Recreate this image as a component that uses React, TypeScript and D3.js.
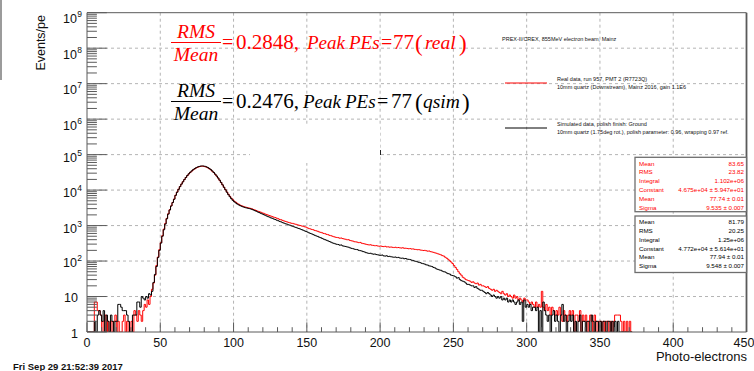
import React from 'react';
import * as d3 from 'd3';

// Photo-electron spectra, 1 PE per bin, bins start at 0 PE
const realCounts = [
  0, 0, 0, 0, 0, 7, 7, 4, 4, 3,
  0, 2, 3, 1, 2, 0, 2, 1, 2, 3,
  1, 2, 0, 1, 2, 3, 1, 2, 0, 1,
  2, 1, 4, 3, 2, 4, 3, 2, 4, 6,
  5, 8, 6, 10, 16, 24, 40, 75, 130, 210,
  330, 520, 800, 1150, 1600, 2150, 2800, 3600, 4500, 5600,
  7200, 8800, 10600, 12600, 14800, 17200, 19800, 22600, 25500, 28500,
  31400, 34300, 37000, 39600, 41900, 43900, 45500, 46600, 47000, 46700,
  45800, 44300, 42300, 39900, 37100, 34100, 31000, 27800, 24700, 21700,
  18900, 16300, 14000, 12000, 10300, 8850, 7650, 6700, 5950, 5350,
  4900, 4550, 4250, 4000, 3780, 3620, 3480, 3370, 3280, 3200,
  3130, 3060, 2980, 2840, 2760, 2660, 2540, 2470, 2390, 2280,
  2220, 2120, 2060, 1980, 1920, 1850, 1790, 1720, 1680, 1610,
  1560, 1490, 1460, 1400, 1350, 1310, 1270, 1230, 1200, 1160,
  1150, 1110, 1090, 1050, 1030, 1000, 975, 955, 925, 905,
  860, 820, 805, 775, 760, 725, 710, 690, 660, 645,
  625, 600, 590, 565, 555, 530, 520, 500, 485, 470,
  462, 455, 440, 446, 430, 418, 412, 398, 400, 380,
  372, 365, 350, 348, 340, 330, 335, 318, 310, 305,
  296, 290, 284, 288, 278, 276, 270, 272, 265, 262,
  266, 258, 255, 260, 250, 252, 246, 249, 244, 240,
  245, 238, 241, 236, 232, 237, 229, 230, 226, 222,
  225, 218, 220, 214, 212, 208, 210, 204, 202, 198,
  200, 195, 190, 192, 184, 180, 176, 170, 166, 160,
  155, 150, 142, 138, 128, 120, 112, 102, 94, 85,
  75, 66, 58, 50, 44, 40, 35, 33, 30, 29,
  28, 27, 25, 26, 24, 23, 24, 21, 22, 20,
  20, 19, 18, 19, 17, 16, 15, 16, 14, 15,
  14, 13, 12, 14, 12, 11, 12, 10, 11, 10,
  9, 11, 9, 10, 8, 9, 8, 7, 9, 8,
  8, 7, 6, 7, 6, 5, 7, 5, 6, 5,
  14, 5, 4, 6, 4, 5, 3, 5, 4, 3,
  4, 3, 5, 3, 2, 4, 3, 2, 3, 4,
  3, 4, 0, 3, 3, 2, 4, 0, 3, 2,
  3, 0, 2, 3, 2, 0, 3, 2, 0, 2,
  2, 0, 2, 0, 2, 2, 0, 2, 0, 2,
  3, 3, 3, 3, 2, 0, 2, 0, 2, 0,
  2, 0,
];

const simCounts = [
  0, 0, 0, 0, 0, 2, 0, 3, 4, 3,
  2, 4, 0, 3, 2, 1, 3, 2, 0, 2,
  2, 6, 6, 5, 4, 4, 4, 3, 2, 1,
  1, 3, 3, 3, 7, 7, 5, 10, 9, 8,
  10, 9, 12, 11, 14, 25, 42, 70, 125, 200,
  320, 500, 760, 1100, 1550, 2100, 2750, 3550, 4450, 5500,
  7100, 8700, 10500, 12500, 14700, 17100, 19800, 22700, 25700, 28800,
  31800, 34800, 37600, 40300, 42700, 44700, 46300, 47400, 47900, 47700,
  46800, 45300, 43200, 40700, 37800, 34700, 31400, 28200, 25000, 22000,
  19100, 16500, 14100, 12000, 10200, 8700, 7450, 6500, 5750, 5150,
  4700, 4350, 4070, 3840, 3650, 3500, 3370, 3260, 3170, 3100,
  3030, 2960, 2870, 2760, 2640, 2540, 2420, 2330, 2220, 2140,
  2040, 1960, 1870, 1790, 1730, 1650, 1600, 1530, 1480, 1415,
  1370, 1310, 1270, 1210, 1170, 1125, 1095, 1050, 1025, 980,
  955, 915, 890, 855, 830, 800, 770, 740, 710, 680,
  655, 625, 600, 580, 555, 530, 510, 495, 470, 455,
  435, 415, 400, 385, 370, 355, 340, 325, 315, 305,
  296, 292, 280, 284, 268, 262, 258, 250, 246, 236,
  228, 224, 216, 212, 210, 200, 196, 192, 184, 180,
  172, 168, 164, 166, 160, 156, 158, 152, 150, 146,
  145, 148, 140, 138, 141, 134, 136, 132, 130, 128,
  130, 125, 127, 122, 120, 121, 116, 118, 113, 112,
  110, 106, 104, 100, 98, 95, 92, 90, 86, 84,
  82, 78, 77, 73, 72, 70, 66, 64, 60, 58,
  56, 55, 52, 50, 49, 46, 44, 43, 40, 39,
  38, 36, 33, 34, 30, 28, 27, 26, 24, 22,
  22, 21, 20, 20, 18, 19, 17, 16, 15, 15,
  14, 13, 12, 13, 12, 11, 10, 11, 10, 9,
  10, 9, 10, 8, 9, 8, 9, 7, 8, 7,
  8, 7, 6, 7, 8, 6, 7, 2, 8, 5,
  6, 5, 6, 4, 5, 5, 4, 5, 0, 4,
  0, 7, 4, 3, 2, 3, 0, 3, 4, 2,
  3, 2, 0, 3, 6, 2, 3, 0, 2, 3,
  2, 3, 0, 2, 0, 2, 3, 0, 2, 2,
  0, 2, 2, 0, 3, 2, 0, 2, 2, 0,
  2, 0, 2, 2, 0, 2, 2, 0, 2, 0,
  2, 0, 2, 0, 0, 0, 0, 0, 0, 0,
  0, 0,
];

const xTickValues = [0, 50, 100, 150, 200, 250, 300, 350, 400, 450];
const yDecadeExponents = [0, 1, 2, 3, 4, 5, 6, 7, 8, 9];

const realStats = [
  ['Mean', '83.65'],
  ['RMS', '23.82'],
  ['Integral', '1.102e+06'],
  ['Constant', '4.675e+04 \u00b1 5.947e+01'],
  ['Mean', '77.74 \u00b1 0.01'],
  ['Sigma', '9.535 \u00b1 0.007'],
];
const simStats = [
  ['Mean', '81.79'],
  ['RMS', '20.25'],
  ['Integral', '1.25e+06'],
  ['Constant', '4.772e+04 \u00b1 5.614e+01'],
  ['Mean', '77.94 \u00b1 0.01'],
  ['Sigma', '9.548 \u00b1 0.007'],
];

const beamLabel = 'PREX-II/CREX, 855MeV electron beam, Mainz';
const realLegend = ['Real data, run 957, PMT 2 (R7723Q)', '10mm quartz (Downstream), Mainz 2016, gain 1.1E6'];
const simLegend = ['Simulated data, polish finish: Ground', '10mm quartz (1.75deg rot.), polish parameter: 0.96, wrapping 0.97 ref.'];

const realRatio = '0.2848,';
const simRatio = '0.2476,';
const peakPEs = '77';
const xTitle = 'Photo-electrons';
const yTitle = 'Events/pe';
const dateStamp = 'Fri Sep 29 21:52:39 2017';

const SANS = "'Liberation Sans', Arial, Helvetica, sans-serif";
const SERIF = "'Liberation Serif', 'Times New Roman', serif";

export default function App() {
  const W = 754;
  const H = 371;
  const left = 87;
  const right = 746.5;
  const top = 12.7;
  const bottom = 332;

  const x = d3.scaleLinear().domain([0, 450]).range([left, right]);
  const y = d3.scaleLog().domain([1, 1e9]).range([bottom, top]);
  const yv = (v: number) => y(Math.max(v, 1));

  const stepPath = (counts: number[]) => {
    const pts: [number, number][] = counts.map((c, i) => [i, c]);
    pts.push([counts.length, counts[counts.length - 1]]);
    return d3
      .line<[number, number]>()
      .x((d) => x(d[0]))
      .y((d) => yv(d[1]))
      .curve(d3.curveStepAfter)(pts) as string;
  };

  const xMinor: number[] = [];
  for (let v = 0; v <= 450; v += 10) if (v % 50 !== 0) xMinor.push(v);
  const yMinor: number[] = [];
  for (let e = 0; e < 9; e++) for (let k = 2; k <= 9; k++) yMinor.push(k * Math.pow(10, e));

  const gridColor = '#b4b4b4';
  const axisColor = '#5a5a5a';

  const formula = (
    color: string,
    base: number,
    ratio: string,
    tag: string,
    xs: number[]
  ) => (
    <g fill={color} fontFamily={SERIF}>
      <text x={196} y={base - 11.5} textAnchor="middle" fontStyle="italic" fontSize={19.5}>RMS</text>
      <line x1={171} x2={221} y1={base - 6.5} y2={base - 6.5} stroke={color} strokeWidth={1.2} />
      <text x={196} y={base + 11.5} textAnchor="middle" fontStyle="italic" fontSize={19.5}>Mean</text>
      <text x={xs[0]} y={base} fontSize={20}>=</text>
      <text x={xs[1]} y={base} fontSize={21}>{ratio}</text>
      <text x={xs[2]} y={base} fontStyle="italic" fontSize={19}>Peak</text>
      <text x={xs[3]} y={base} fontStyle="italic" fontSize={19}>PEs</text>
      <text x={xs[4]} y={base} fontSize={20}>=</text>
      <text x={xs[5]} y={base} fontSize={21}>{peakPEs}</text>
      <text x={xs[6]} y={base + 1.5} fontSize={23} fontWeight={300}>(</text>
      <text x={xs[7]} y={base} fontStyle="italic" fontSize={19.5}>{tag}</text>
      <text x={xs[8]} y={base + 1.5} fontSize={23} fontWeight={300}>)</text>
    </g>
  );

  const statsBox = (rows: string[][], color: string, y0: number, y1: number) => (
    <g>
      <rect x={635} y={y0} width={111.5} height={y1 - y0} fill="#fff" stroke="#6e6e6e" strokeWidth={1.3} />
      {rows.map((r, i) => (
        <g key={i} fill={color} fontFamily={SANS} fontSize={6.2}>
          <text x={639} y={y0 + 8.2 + i * 8.8}>{r[0]}</text>
          <text x={744} y={y0 + 8.2 + i * 8.8} textAnchor="end">{r[1]}</text>
        </g>
      ))}
    </g>
  );

  const labelOffset = (e: number) => (e >= 6 ? 6 : e >= 3 ? 2.5 : 1);

  return (
    <svg
      width={W}
      height={H}
      viewBox={`0 0 ${W} ${H}`}
      style={{ position: 'absolute', left: 0, top: 0, background: '#fff' }}
    >
      <defs>
        <clipPath id="frameClip">
          <rect x={left} y={top} width={right - left} height={bottom - top} />
        </clipPath>
      </defs>
      <rect x={0} y={0} width={W} height={H} fill="#fff" />
      <line x1={1} x2={1} y1={0} y2={80} stroke="#7a7a7a" strokeWidth={1.5} />

      {/* grid */}
      <g stroke={gridColor} strokeWidth={1} strokeDasharray="3,3">
        {xTickValues.slice(1, -1).map((v) => (
          <line key={'gx' + v} x1={x(v)} x2={x(v)} y1={top} y2={bottom} />
        ))}
        {yDecadeExponents.slice(1, -1).map((e) => (
          <line key={'gy' + e} x1={left} x2={right} y1={y(Math.pow(10, e))} y2={y(Math.pow(10, e))} />
        ))}
      </g>
      <rect x={250} y={125} width={130} height={38} fill="#fff" />
      <line x1={380.5} x2={380.5} y1={150} y2={155} stroke="#222" strokeWidth={1} />

      {/* histograms */}
      <g clipPath="url(#frameClip)" fill="none" strokeWidth={1}>
        <path d={stepPath(realCounts)} stroke="#ff0000" />
        <path d={stepPath(simCounts)} stroke="#000" />
      </g>

      {/* frame and axes */}
      <g stroke={axisColor} strokeWidth={1} fill="none">
        <line x1={left} x2={right} y1={top} y2={top} />
        <line x1={right} x2={right} y1={top} y2={bottom} strokeWidth={1.8} />
        <line x1={left} x2={left} y1={top} y2={bottom} />
        <line x1={left} x2={right} y1={bottom} y2={bottom} />
        {xTickValues.map((v) => (
          <line key={'xt' + v} x1={x(v)} x2={x(v)} y1={bottom} y2={bottom - 9.6} />
        ))}
        {xMinor.map((v) => (
          <line key={'xm' + v} x1={x(v)} x2={x(v)} y1={bottom} y2={bottom - 4.8} />
        ))}
        {yDecadeExponents.map((e) => (
          <line key={'yt' + e} x1={left} x2={left + 19.8} y1={y(Math.pow(10, e))} y2={y(Math.pow(10, e))} />
        ))}
        {yMinor.map((v, i) => (
          <line key={'ym' + i} x1={left} x2={left + 9.9} y1={y(v)} y2={y(v)} />
        ))}
      </g>

      {/* tick labels */}
      <g fontFamily={SANS} fontSize={12.5} fill="#111">
        {xTickValues.map((v) => (
          <text key={'xl' + v} x={Math.min(x(v), 744)} y={346.5} textAnchor="middle">{v}</text>
        ))}
        {yDecadeExponents.map((e) => {
          const yy = y(Math.pow(10, e)) + labelOffset(e);
          if (e === 0) return <text key="yl0" x={78} y={yy + 4.5} textAnchor="end">1</text>;
          if (e === 1) return <text key="yl1" x={78} y={yy + 4.5} textAnchor="end">10</text>;
          return (
            <g key={'yl' + e}>
              <text x={77} y={yy + 4.5} textAnchor="end">10</text>
              <text x={77.3} y={yy - 1.5} fontSize={8.5}>{e}</text>
            </g>
          );
        })}
      </g>

      <text x={747} y={361} textAnchor="end" fontFamily={SANS} fontSize={13} fill="#111">{xTitle}</text>
      <text transform="translate(45,15) rotate(-90)" textAnchor="end" fontFamily={SANS} fontSize={12.5} fill="#111">{yTitle}</text>
      <text x={13} y={369.5} fontFamily={SANS} fontWeight="bold" fontSize={9.5} fill="#111">{dateStamp}</text>

      {/* formulas */}
      {formula('#ff0000', 49, realRatio, 'real', [222, 236, 307, 349, 381, 393, 415, 425, 459])}
      {formula('#000', 108, simRatio, 'qsim', [222, 236, 303, 345, 377, 391, 415, 423, 462])}

      {/* legend */}
      <g fontFamily={SANS} fontSize={5.5} fill="#111">
        <text x={502} y={40.5}>{beamLabel}</text>
        <text x={557} y={81}>{realLegend[0]}</text>
        <text x={557} y={89}>{realLegend[1]}</text>
        <text x={557} y={126}>{simLegend[0]}</text>
        <text x={557} y={133.5}>{simLegend[1]}</text>
      </g>
      <line x1={505} x2={547} y1={83} y2={83} stroke="#ff0000" strokeWidth={1} />
      <line x1={505} x2={547} y1={128} y2={128} stroke="#000" strokeWidth={1} />

      {/* fit statistics */}
      {statsBox(realStats, '#ff0000', 157.3, 211.7)}
      {statsBox(simStats, '#000', 216, 272.5)}
    </svg>
  );
}
